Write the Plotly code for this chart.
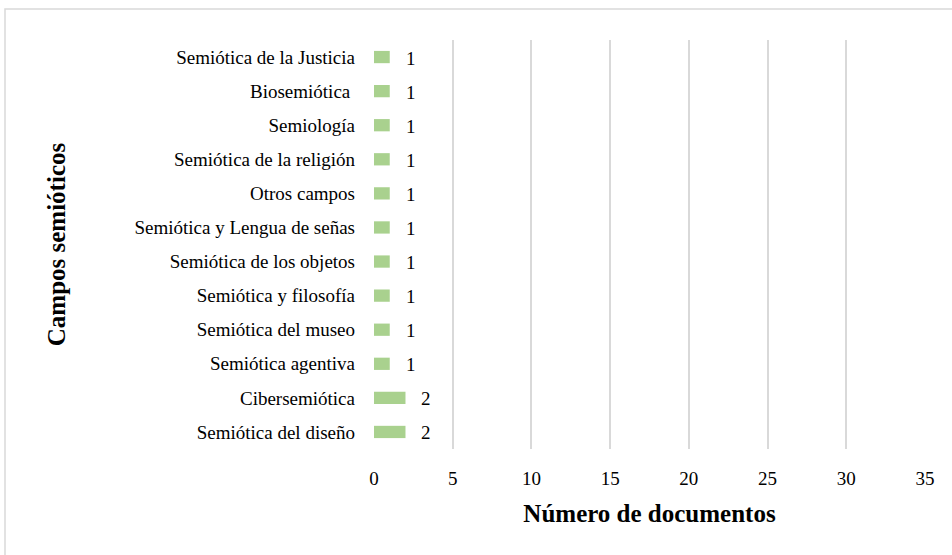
import plotly.graph_objects as go

categories = [
    "Semiótica del diseño",
    "Cibersemiótica",
    "Semiótica agentiva",
    "Semiótica del museo",
    "Semiótica y filosofía",
    "Semiótica de los objetos",
    "Semiótica y Lengua de señas",
    "Otros campos",
    "Semiótica de la religión",
    "Semiología",
    "Biosemiótica ",
    "Semiótica de la Justicia",
]
values = [2, 2, 1, 1, 1, 1, 1, 1, 1, 1, 1, 1]
x_ticks = [0, 5, 10, 15, 20, 25, 30, 35]

FONT = "Liberation Serif"
W, H = 952, 555
ml, mr, mt, mb = 374, 27, 40, 106

fig = go.Figure()
fig.add_trace(go.Bar(
    y=categories, x=values, orientation="h",
    marker=dict(color="#a9d18e", line=dict(width=0)),
    width=0.36,
    hoverinfo="x+y",
))

for c, v in zip(categories, values):
    fig.add_annotation(x=v, y=c, text=str(v), showarrow=False,
                       xanchor="left", xshift=14, yshift=-1,
                       font=dict(family=FONT, size=19, color="#000"))

pw = W - ml - mr
ph = H - mt - mb
fig.add_shape(type="rect", xref="paper", yref="paper",
              x0=(5 - ml) / pw, x1=(W + 5 - ml) / pw,
              y0=(H - mb - (H + 5)) / ph, y1=(H - mb - 9) / ph,
              line=dict(color="#d9d9d9", width=1.5), layer="below")

fig.update_layout(
    width=W, height=H,
    margin=dict(l=ml, r=mr, t=mt, b=mb, autoexpand=False),
    paper_bgcolor="white", plot_bgcolor="white",
    showlegend=False,
    bargap=0.64,
    font=dict(family=FONT, size=19, color="#000"),
    xaxis=dict(
        range=[0, 35], tickvals=x_ticks, showgrid=True,
        gridcolor="#d9d9d9", gridwidth=2, zeroline=False,
        showline=False, ticks="", ticklabelstandoff=16,
        tickfont=dict(family=FONT, size=19),
        title=dict(text="<b>Número de documentos</b>",
                   font=dict(family=FONT, size=25), standoff=16),
        automargin=False,
    ),
    yaxis=dict(
        showgrid=False, zeroline=False, showline=False, ticks="",
        tickfont=dict(family=FONT, size=19), ticklabelstandoff=18,
        title=dict(text="<b>Campos semióticos</b>",
                   font=dict(family=FONT, size=25), standoff=61),
        automargin=False,
    ),
)

fig.write_html("out.html", config={"displayModeBar": False},
               post_script="document.body.style.margin='0';")
